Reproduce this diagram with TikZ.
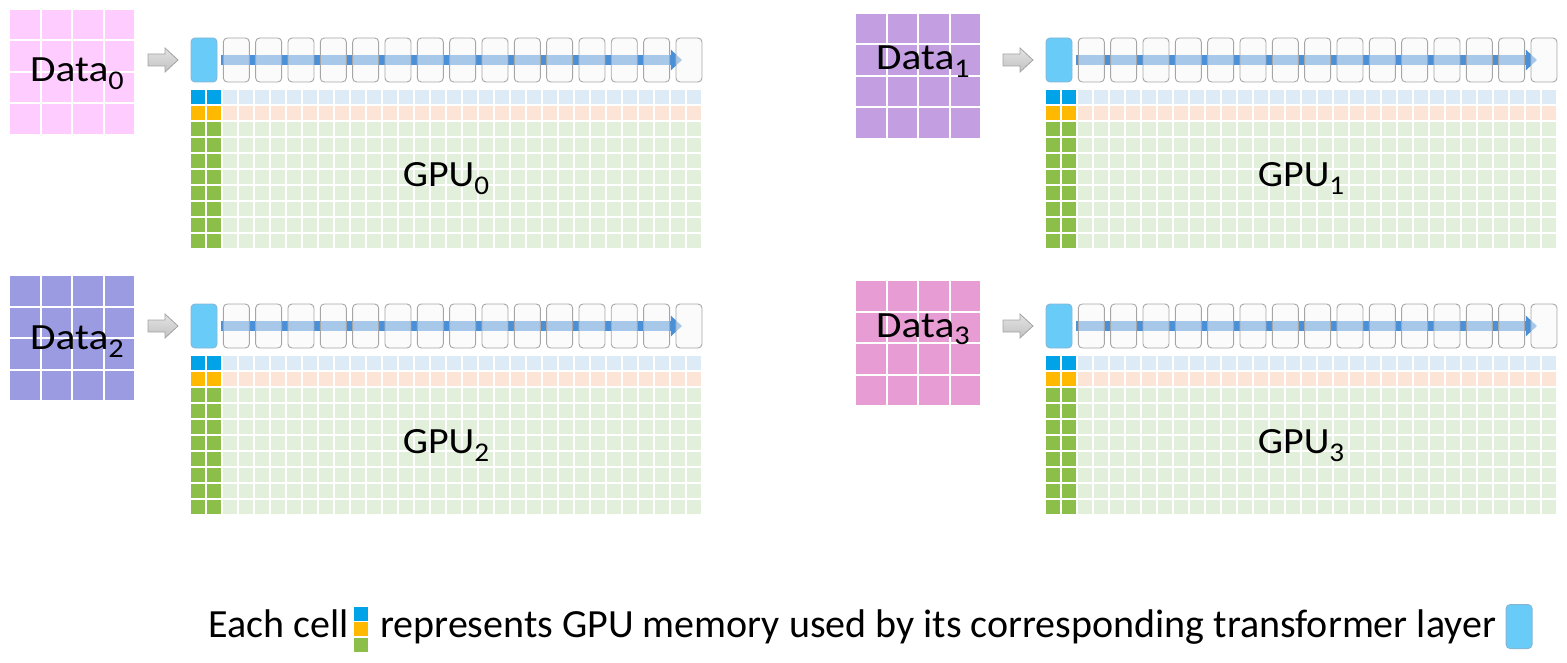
\documentclass[tikz,border=0pt]{standalone}
\usepackage{fontspec}
\setmainfont{Carlito}
\usepackage{xcolor}
\usetikzlibrary{shapes,arrows,arrows.meta}
\usetikzlibrary{positioning,backgrounds}

\definecolor{dataA}{HTML}{FFCCFF}
\definecolor{dataB}{HTML}{C39FE1}
\definecolor{dataC}{HTML}{9B9BE2}
\definecolor{dataD}{HTML}{E79DD3}
\definecolor{layerblue}{HTML}{69CBF7}
\definecolor{layeredge}{HTML}{86B6D6}
\definecolor{boxgray}{HTML}{A6A6A6}
\definecolor{boxfill}{HTML}{F7F7F7}
\definecolor{flowblue}{HTML}{4A90D9}
\definecolor{feedgray}{HTML}{A3A3A3}
\definecolor{cellblue}{HTML}{00A2E8}

\newcommand{\idx}[1]{\raisebox{-8pt}{\fontsize{27}{27}\selectfont #1}}

\begin{document}
\begin{tikzpicture}[x=1pt,y=-1pt,
	layer_box/.style={draw=boxgray,fill=boxfill,fill opacity=0.55,draw opacity=1,rounded corners=4pt,minimum width=26pt,minimum height=44pt,inner sep=0pt,outer sep=0pt,line width=0.9pt},
	layer_first/.style={layer_box,fill=layerblue,fill opacity=1,draw=layeredge},
	feed_arrow/.style={draw=feedgray,line width=0.8pt,top color=gray!22,bottom color=gray!48},
	flow_arrow/.style={draw=flowblue,line width=9.5pt,-{Triangle[length=11pt,width=20pt]}},
	data_label/.style={inner sep=0pt,font=\fontsize{37}{37}\selectfont},
	gpu_label/.style={inner sep=0pt,font=\fontsize{37}{37}\selectfont},
	legend_text/.style={inner sep=0pt,font=\fontsize{40}{40}\selectfont},
	memB_dark/.style={fill=cellblue},
	memB_light/.style={fill={rgb,255:red,221;green,235;blue,247}},
	memO_dark/.style={fill={rgb,255:red,255;green,185;blue,0}},
	memO_light/.style={fill={rgb,255:red,252;green,228;blue,214}},
	memG_dark/.style={fill={rgb,255:red,139;green,191;blue,74}},
	memG_light/.style={fill={rgb,255:red,226;green,239;blue,218}}]
	\useasboundingbox (0,0) rectangle (1567,663);
	
	\foreach \p/\ox/\oy/\dcol/\dx/\dy/\ty in {0/0/0/dataA/10/10/82, 1/855/0/dataB/856/14/70, 2/0/266/dataC/10/276/349, 3/855/266/dataD/856/281/337}{
		% data block
		\foreach \i in {0,...,3}
			\foreach \j in {0,...,3}
				\fill[\dcol] ({\dx+31.5*\i},{\dy+31.5*\j}) rectangle +(29.5,29.5);
		\node[data_label,anchor=base west] (data\p) at ({\dx+20},\ty) {\scalebox{1.12}[1]{Data\idx{\p}}};
		
		% transformer layers
		\node[layer_first] (L\p-0) at ({204+\ox},{60+\oy}) {};
		\foreach \k [remember=\k as \prev (initially 0)] in {1,...,15}
			\node[layer_box,right=6.33pt of L\p-\prev] (L\p-\k) {};
		\begin{pgfonlayer}{background}
			\draw[flow_arrow] ([xshift=4pt]L\p-0.east) -- ([xshift=6pt]L\p-15.west);
		\end{pgfonlayer}
		\coordinate (feed\p) at ([xshift=-13pt]L\p-0.west);
		\draw[feed_arrow] (feed\p) -- ++(-13,-12) -- ++(0,6) -- ++(-17,0) -- ++(0,12) -- ++(17,0) -- ++(0,6) -- cycle;
		
		% memory cells
		\foreach \c in {0,...,31}{
			\ifnum\c<2 \def\tone{dark}\else\def\tone{light}\fi
			\fill[memB_\tone] ({191+\ox+16*\c},{90+\oy}) rectangle +(14,14);
			\fill[memO_\tone] ({191+\ox+16*\c},{106+\oy}) rectangle +(14,14);
			\foreach \r in {2,...,9}
				\fill[memG_\tone] ({191+\ox+16*\c},{90+\oy+16*\r}) rectangle +(14,14);
		}
		\node[gpu_label,anchor=base] (gpu\p) at ({446+\ox},{187+\oy}) {\scalebox{1.08}[1]{GPU\idx{\p}}};
	}
	
	% legend
	\node[legend_text,anchor=base west] (leg_each) at (208,637) {Each cell};
	\fill[memB_dark] (354,607) rectangle +(14,14);
	\fill[memO_dark] (354,622) rectangle +(14,14);
	\fill[memG_dark] (354,638) rectangle +(14,14);
	\node[legend_text,anchor=base west] (leg_rest) at (380,637) {represents GPU memory used by its corresponding transformer layer};
	\node[layer_first,right=10pt of leg_rest.east] (leg_layer) {};
\end{tikzpicture}
\end{document}
